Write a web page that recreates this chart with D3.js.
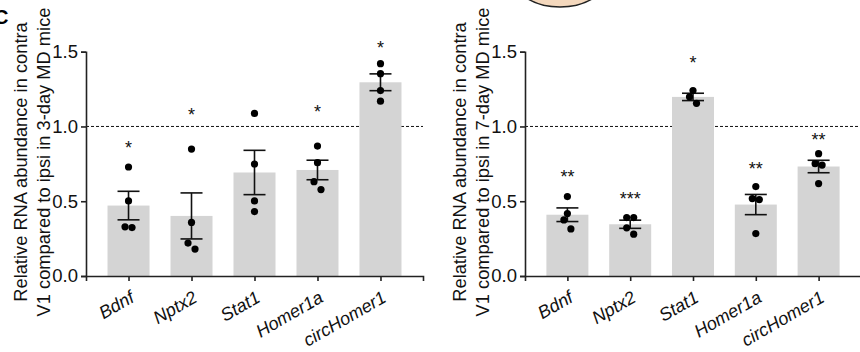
<!DOCTYPE html>
<html>
<head>
<meta charset="utf-8">
<script src="https://cdn.jsdelivr.net/npm/d3@7"></script>
<style>
  body { margin: 0; background: #fff; }
  svg { display: block; font-family: "Liberation Sans", Arial, sans-serif; }
</style>
</head>
<body>
<script>
// genes on the x axis
const genes = ["Bdnf", "Nptx2", "Stat1", "Homer1a", "circHomer1"];

// individual animals, 3-day MD (contra / ipsi)
const md3Points = [
  [0.729, 0.502, 0.329, 0.324],
  [0.849, 0.358, 0.220, 0.180],
  [1.087, 0.749, 0.502, 0.431],
  [0.869, 0.758, 0.631, 0.578],
  [1.420, 1.353, 1.240, 1.169]
];
// individual animals, 7-day MD
const md7Points = [
  [0.531, 0.418, 0.375, 0.315],
  [0.391, 0.391, 0.322, 0.280],
  [1.240, 1.198, 1.155],
  [0.598, 0.518, 0.511, 0.284],
  [0.818, 0.751, 0.742, 0.618]
];

// significance marks and the level they sit at
const md3Stars = ["*", "*", "", "*", "*"];
const md3StarLevel = [0.889, 1.111, null, 1.133, 1.56];
const md7Stars = ["**", "***", "*", "**", "**"];
const md7StarLevel = [0.695, 0.551, 1.458, 0.751, 0.94];

const yTicks = [0, 0.5, 1.0, 1.5];
const refLine = 1.0;
const md3Label = ["Relative RNA abundance in contra", "V1 compared to ipsi in 3-day MD mice"];
const md7Label = ["Relative RNA abundance in contra", "V1 compared to ipsi in 7-day MD mice"];

const W = 860, H = 352;
const svg = d3.select("body").append("svg")
  .attr("width", W).attr("height", H);

// bit of the neighbouring panel peeking in at the top
svg.append("ellipse")
  .attr("cx", 560).attr("cy", -20).attr("rx", 45).attr("ry", 27)
  .attr("fill", "#f4d8bd").attr("stroke", "#222").attr("stroke-width", 1.5);

svg.append("text")
  .attr("x", -6).attr("y", 24)
  .attr("font-size", 20).attr("font-weight", "bold")
  .text("C");

const y = d3.scaleLinear().domain([0, 1.5]).range([276, 51.7]);

// spread points that would overlap, the way Prism nudges them sideways
function jitter(ys) {
  const idx = d3.range(ys.length).sort((a, b) => ys[a] - ys[b]);
  const off = new Array(ys.length).fill(0);
  const flush = c => {
    const pat = c.length % 2 ? [0, -1, 1, -2, 2] : [-1, 1, -3, 3];
    c.forEach((k, i) => off[k] = pat[i] * 3.5);
  };
  let cl = [idx[0]];
  for (let i = 1; i < idx.length; i++) {
    if (ys[idx[i]] - ys[idx[i - 1]] < 9.5) cl.push(idx[i]);
    else { flush(cl); cl = [idx[i]]; }
  }
  flush(cl);
  return off;
}

function drawPanel(x0, x1, points, stars, starLevel, label) {
  const x = d3.scalePoint().domain(genes).range([x0, x1]).padding(0.675);
  const g = svg.append("g");

  const stats = points.map((p, i) => {
    const m = d3.mean(p);
    const sem = d3.deviation(p) / Math.sqrt(p.length);
    return {gene: genes[i], mean: m, sem: sem, pts: p, star: stars[i], level: starLevel[i]};
  });

  // dashed reference at 1.0, behind the bars
  g.append("line")
    .attr("x1", x0).attr("x2", Math.min(x1, W))
    .attr("y1", y(refLine)).attr("y2", y(refLine))
    .attr("stroke", "#111").attr("stroke-width", 1)
    .attr("stroke-dasharray", "3,2");

  const bw = 42;
  g.selectAll(".bar").data(stats).enter().append("rect")
    .attr("x", d => x(d.gene) - bw / 2)
    .attr("y", d => y(d.mean))
    .attr("width", bw)
    .attr("height", d => y(0) - y(d.mean))
    .attr("fill", "#d4d4d4");

  // error bars (mean ± SEM)
  const eb = g.selectAll(".eb").data(stats).enter().append("g")
    .attr("stroke", "#111").attr("stroke-width", 1.6);
  eb.append("line")
    .attr("x1", d => x(d.gene)).attr("x2", d => x(d.gene))
    .attr("y1", d => y(d.mean - d.sem)).attr("y2", d => y(d.mean + d.sem));
  eb.append("line")
    .attr("x1", d => x(d.gene) - 11).attr("x2", d => x(d.gene) + 11)
    .attr("y1", d => y(d.mean + d.sem)).attr("y2", d => y(d.mean + d.sem));
  eb.append("line")
    .attr("x1", d => x(d.gene) - 11).attr("x2", d => x(d.gene) + 11)
    .attr("y1", d => y(d.mean - d.sem)).attr("y2", d => y(d.mean - d.sem));

  stats.forEach(d => {
    const ys = d.pts.map(v => y(v));
    const off = jitter(ys);
    g.selectAll(null).data(d.pts).enter().append("circle")
      .attr("cx", (v, i) => x(d.gene) + off[i])
      .attr("cy", v => y(v))
      .attr("r", 3.6)
      .attr("fill", "#000");
  });

  g.selectAll(".star").data(stats.filter(d => d.star)).enter().append("text")
    .attr("x", d => x(d.gene))
    .attr("y", d => y(d.level) + 11)
    .attr("text-anchor", "middle")
    .attr("font-size", 18)
    .attr("fill", "#111")
    .text(d => d.star);

  // axes
  const yAxis = d3.axisLeft(y).tickValues(yTicks).tickFormat(d3.format(".1f"))
    .tickSizeOuter(0).tickSize(5).tickPadding(3);
  const ya = g.append("g").attr("transform", "translate(" + x0 + ",0)").call(yAxis);
  ya.selectAll("text").attr("font-size", 18.5).attr("fill", "#111")
    .attr("font-family", "Liberation Sans, Arial, sans-serif");

  const xAxis = d3.axisBottom(x).tickSizeOuter(0).tickSize(5).tickFormat("");
  const xa = g.append("g").attr("transform", "translate(0," + y(0) + ")").call(xAxis);

  [ya, xa].forEach(a => {
    a.select(".domain").attr("stroke", "#222").attr("stroke-width", 1.6);
    a.selectAll(".tick line").attr("stroke", "#222").attr("stroke-width", 1.6);
  });

  // gene names, italic and tilted
  g.selectAll(".xl").data(genes).enter().append("text")
    .attr("transform", d => "translate(" + (x(d) + 7) + ",301) rotate(-30)")
    .attr("text-anchor", "end")
    .attr("font-size", 18)
    .attr("font-style", "italic")
    .attr("fill", "#111")
    .text(d => d);

  // y axis title, two lines
  const t = g.append("text")
    .attr("transform", "translate(" + (x0 - 59) + ",162) rotate(-90)")
    .attr("text-anchor", "middle")
    .attr("font-size", 18.3)
    .attr("fill", "#111");
  label.forEach((s, i) => t.append("tspan").attr("x", 0).attr("y", i * 23).text(s));
}

drawPanel(86, 423, md3Points, md3Stars, md3StarLevel, md3Label);
drawPanel(525, 861, md7Points, md7Stars, md7StarLevel, md7Label);
</script>
</body>
</html>
